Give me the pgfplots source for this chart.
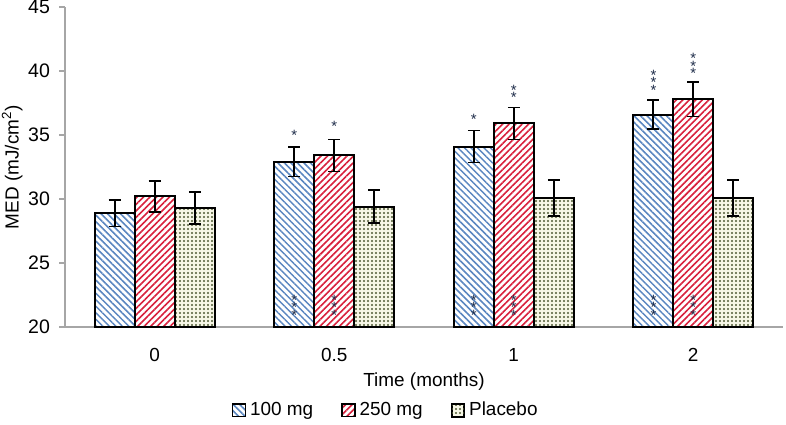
\documentclass[border=0pt]{standalone}
\usepackage{fontspec}
\setmainfont{Liberation Sans}
\usepackage{pgfplots}
\pgfplotsset{compat=1.18}
\usetikzlibrary{patterns.meta, calc}

\definecolor{axgray}{HTML}{A6A6A6}
\definecolor{hatchblue}{HTML}{5A86C0}
\definecolor{hatchred}{HTML}{D8203C}
\definecolor{dotgreen}{HTML}{4E5A34}
\definecolor{dotbg}{HTML}{F7F7E6}
\definecolor{starnavy}{HTML}{1F2D4A}

\begin{document}
\begin{tikzpicture}[font=\fontsize{9.5}{11}\selectfont]
\begin{axis}[
  width=359bp, height=160bp, scale only axis,
  xmin=-0.5, xmax=3.5,
  ymin=20, ymax=45,
  ytick={20,25,...,45},
  xtick={0,1,2,3},
  xticklabels={0,0.5,1,2},
  minor xtick={-0.5,0.5,1.5,2.5,3.5},
  axis x line*=bottom, axis y line*=left,
  axis line style={axgray, line width=0.9pt, -},
  tick align=outside,
  xtick style={draw=none},
  minor x tick style={axgray, line width=0.9pt},
  ytick style={axgray, line width=0.9pt},
  major tick length=3bp, minor tick length=4bp,
  xticklabel style={yshift=-4bp},
  yticklabel style={xshift=-1bp, font=\fontsize{9.8}{11}\selectfont},
  /pgf/number format/assume math mode=true,
  xlabel={Time (months)},
  ylabel={MED (mJ/cm\textsuperscript{2})},
  xlabel style={yshift=1bp},
  ylabel style={yshift=-4bp},
  ybar=0pt, bar width=20bp,
  clip=false,
  legend style={at={(0.448,-0.26)}, anchor=center, legend columns=3, draw=none,
    font=\fontsize{9.5}{11}\selectfont,
    /tikz/every even column/.append style={column sep=12bp}},
  legend image code/.code={\draw[#1, line width=0.8pt] (0bp,-3.2bp) rectangle (6.4bp,3.2bp);},
  error bars/y dir=both, error bars/y explicit,
  error bars/error bar style={line width=0.9pt, black},
  error bars/error mark options={rotate=90, mark size=3bp, line width=0.9pt, black},
]
\coordinate (o) at (rel axis cs:0,0);

% 100 mg
\addplot[draw=black, line width=1pt,
  pattern={Lines[angle=-45, distance=2.3bp, line width=0.75bp]}, pattern color=hatchblue]
  coordinates {(0,28.9) +- (0,1.05) (1,32.9) +- (0,1.15) (2,34.1) +- (0,1.25) (3,36.6) +- (0,1.15)};
% 250 mg
\addplot[draw=black, line width=1pt,
  pattern={Lines[angle=45, distance=2.3bp, line width=0.8bp]}, pattern color=hatchred]
  coordinates {(0,30.2) +- (0,1.2) (1,33.4) +- (0,1.25) (2,35.9) +- (0,1.25) (3,37.8) +- (0,1.35)};
% Placebo
\addplot[draw=black, line width=1pt, preaction={fill=dotbg},
  pattern={Dots[distance=2bp, radius=0.55bp]}, pattern color=dotgreen]
  coordinates {(0,29.3) +- (0,1.25) (1,29.4) +- (0,1.3) (2,30.1) +- (0,1.4) (3,30.1) +- (0,1.4)};
\legend{100 mg, 250 mg, Placebo}

% significance marks
\begin{scope}[every node/.style={text=starnavy, align=center, inner sep=0pt,
    font=\fontsize{7.5}{3.7}\selectfont,
    execute at begin node={\lineskiplimit=-20bp\relax\lineskip=0pt\relax}}]
\node at (axis cs:0.778,35.0) {*};
\node at (axis cs:1,35.7) {*};
\node at (axis cs:1.778,36.2) {*};
\node at (axis cs:2,38.2) {*\\*};
\node at (axis cs:2.778,39.1) {*\\*\\*};
\node at (axis cs:3,40.4) {*\\*\\*};
\node at (axis cs:0.778,21.5) {*\\*\\*};
\node at (axis cs:1,21.5) {*\\*\\*};
\node at (axis cs:1.778,21.5) {*\\*\\*};
\node at (axis cs:2,21.5) {*\\*\\*};
\node at (axis cs:2.778,21.5) {*\\*\\*};
\node at (axis cs:3,21.5) {*\\*\\*};
\end{scope}
\end{axis}
\pgfresetboundingbox
\path[use as bounding box] ($(o)+(-32.5bp,-49bp)$) rectangle ($(o)+(360.5bp,163.5bp)$);
\end{tikzpicture}
\end{document}
